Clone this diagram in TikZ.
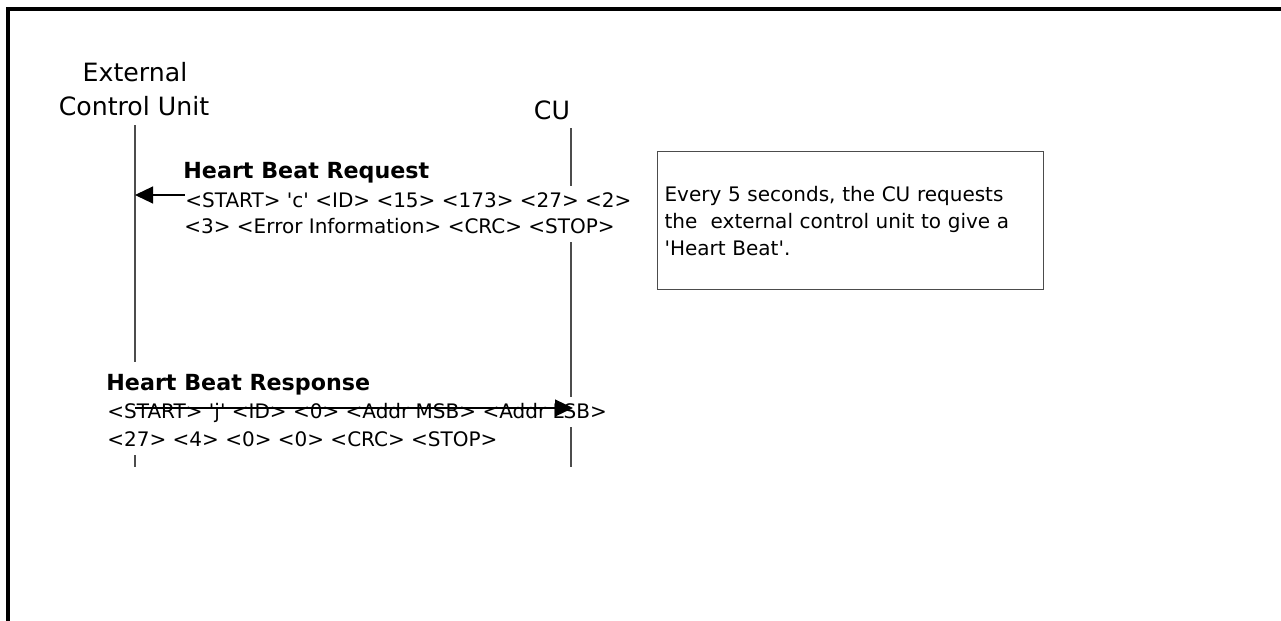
\documentclass[tikz,border=0pt]{standalone}
\usepackage{fontspec}
\setmainfont{DejaVu Sans}[Ligatures=TeXOff]
\usetikzlibrary{arrows.meta}
\begin{document}
\begin{tikzpicture}[x=0.5pt,y=-0.5pt,
  actor/.style={font=\fontsize{12.6pt}{15pt}\selectfont, inner sep=0, anchor=base},
  lifeline/.style={draw=black!70, line width=0.6pt},
  msgtitle/.style={font=\fontsize{11.1pt}{13pt}\selectfont\bfseries, fill=white, inner sep=0,
    anchor=base west, text height=14pt, text depth=3.5pt},
  msgrow/.style={font=\fontsize{10pt}{12pt}\selectfont, fill=white, inner sep=0,
    anchor=base west, text height=10.5pt, text depth=4.5pt},
  msg/.style={draw=black, line width=0.6pt, -{Triangle[length=9pt,width=8.5pt]}},
  note/.style={draw=black!70, line width=0.6pt, anchor=north west,
    minimum width=193pt, minimum height=69pt, inner xsep=3.5pt, text width=186pt,
    align=left, font=\fontsize{10pt}{13.5pt}\selectfont}
]
\useasboundingbox (0,0) rectangle (1281,621);

% page frame (top and left edges)
\draw[line width=2pt] (8,621) -- (8,9) -- (1281,9);

% participants
\node[actor] (ecu1) at (135,82) {External};
\node[actor] (ecu2) at (134,115) {Control Unit};
\node[actor] (cu) at (552,119) {CU};

% lifelines
\coordinate (ecuTop) at (135,125);
\coordinate (ecuBot) at (135,467);
\coordinate (cuTop) at (571,128);
\coordinate (cuBot) at (571,467);
\draw[lifeline] (ecuTop) -- (ecuBot);
\draw[lifeline] (cuTop) -- (cuBot);

% request message, CU -> external unit
\coordinate (reqFrom) at (571,195);
\coordinate (reqTo) at (135,195);
\draw[msg] (reqFrom) -- (reqTo);

\node[msgtitle] (reqT) at (183,178) {Heart Beat Request};
\node[msgrow] (reqR1) at (185,207) {<START> 'c' <ID> <15> <173> <27> <2>};
\node[msgrow] (reqR2) at (184,233) {<3> <Error Information> <CRC> <STOP>};

% response message, external unit -> CU
\node[msgtitle] (rspT) at (106,390) {Heart Beat Response};
\node[msgrow] (rspR1) at (107,418) {<START> 'j' <ID> <0> <Addr MSB> <Addr LSB>};
\node[msgrow] (rspR2) at (107,446) {<27> <4> <0> <0> <CRC> <STOP>};

\coordinate (rspFrom) at (135,408);
\coordinate (rspTo) at (573,408);
\draw[msg] (rspFrom) -- (rspTo);

% explanatory note
\node[note] (note) at (657,151) {Every 5 seconds, the CU requests\\
the~ external control unit to give a\\
'Heart Beat'.};
\end{tikzpicture}
\end{document}
